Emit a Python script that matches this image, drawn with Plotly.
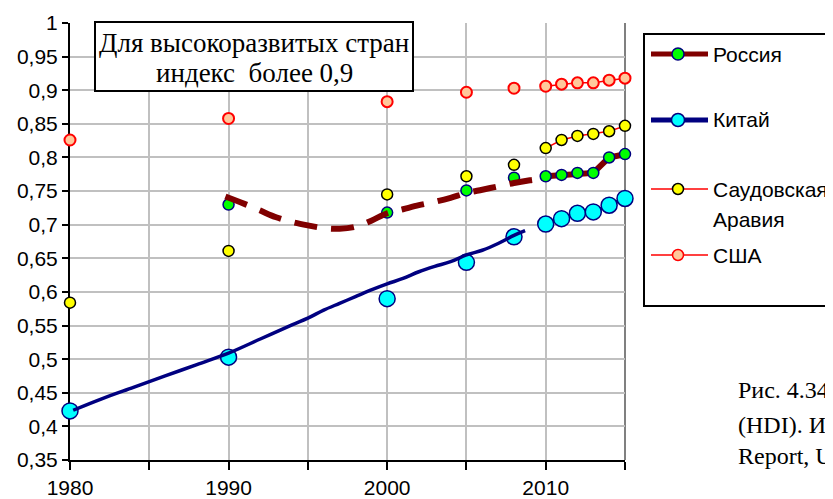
import plotly.graph_objects as go

# ---------------- data ----------------
years = [1980, 1990, 2000, 2005, 2008, 2010, 2011, 2012, 2013, 2014, 2015]
russia = [None, 0.730, 0.718, 0.751, 0.770, 0.772, 0.774, 0.777, 0.777, 0.800, 0.805]
china = [0.423, 0.503, 0.590, 0.644, 0.682, 0.701, 0.709, 0.717, 0.719, 0.729, 0.739]
saudi = [0.584, 0.661, 0.745, 0.772, 0.789, 0.814, 0.826, 0.832, 0.835, 0.839, 0.847]
usa = [0.826, 0.858, 0.883, 0.897, 0.903, 0.906, 0.909, 0.911, 0.911, 0.915, 0.918]

russia_trend_years = [1989.8, 1991, 1992, 1993, 1994, 1995, 1996, 1997, 1998, 1999, 2000,
                      2001, 2002, 2003, 2004, 2005, 2006, 2007, 2008, 2009, 2009.3]
russia_trend = [0.742, 0.731, 0.721, 0.711, 0.704, 0.699, 0.695, 0.694, 0.697, 0.706, 0.717,
                0.723, 0.729, 0.734, 0.740, 0.747, 0.752, 0.757, 0.762, 0.766, 0.767]

china_trend_years = [1980.2, 1982, 1984, 1986, 1988, 1990, 1992, 1994, 1995, 1996, 1997, 1998,
                     1999, 2000, 2001, 2002, 2003, 2004, 2005, 2006, 2007, 2008, 2008.7]
china_trend = [0.424, 0.441, 0.458, 0.475, 0.492, 0.509, 0.530, 0.551, 0.561, 0.573, 0.583, 0.593,
               0.603, 0.612, 0.620, 0.630, 0.638, 0.645, 0.655, 0.662, 0.672, 0.684, 0.691]

series_names = ["Россия", "Китай", "Саудовская Аравия", "США"]
x_tick_vals = [1980, 1985, 1990, 1995, 2000, 2005, 2010, 2015]
x_tick_text = ["1980", "", "1990", "", "2000", "", "2010", ""]
y_tick_vals = [0.35, 0.4, 0.45, 0.5, 0.55, 0.6, 0.65, 0.7, 0.75, 0.8, 0.85, 0.9, 0.95, 1.0]
y_tick_text = ["0,35", "0,4", "0,45", "0,5", "0,55", "0,6", "0,65", "0,7", "0,75", "0,8",
               "0,85", "0,9", "0,95", "1"]

box_lines = ["Для высокоразвитых стран", "индекс\u00a0\u00a0более 0,9"]
caption_lines = ["Рис. 4.34", "(HDI). И", "Report, U"]

# ---------------- geometry ----------------
# the page body has an 8px margin, so the figure is 8px smaller and shifted
OFF = 8
W, H = 833 - OFF, 499 - OFF
L, R, T, B = 70 - OFF, 208, 23 - OFF, 39
PW, PH = W - L - R, H - T - B


def px2x(sx):
    return (sx - OFF - L) / PW


def py2y(sy):
    return (H - B - (sy - OFF)) / PH


full_years = list(range(1980, 2016))


def expand(vals):
    m = dict(zip(years, vals))
    return [m.get(y) for y in full_years]


fig = go.Figure()

SANS = "Liberation Sans, Arial, sans-serif"
SERIF = "Liberation Serif, Times New Roman, serif"

# USA
fig.add_trace(go.Scatter(
    x=full_years, y=expand(usa), mode="lines+markers", name=series_names[3],
    line=dict(color="#FF0000", width=1.5), connectgaps=False, cliponaxis=False,
    marker=dict(size=11, color="#FFC89B", line=dict(color="#FF0000", width=2))))
# Saudi Arabia
fig.add_trace(go.Scatter(
    x=full_years, y=expand(saudi), mode="lines+markers", name=series_names[2],
    line=dict(color="#FF0000", width=1.5), connectgaps=False, cliponaxis=False,
    marker=dict(size=11, color="#FFFF00", line=dict(color="#000000", width=1.5))))
# Russia
fig.add_trace(go.Scatter(
    x=full_years, y=expand(russia), mode="lines+markers", name=series_names[0],
    line=dict(color="#800000", width=6), connectgaps=False, cliponaxis=False,
    marker=dict(size=11, color="#00FF00", line=dict(color="#000080", width=1.5))))
# China
fig.add_trace(go.Scatter(
    x=full_years, y=expand(china), mode="lines+markers", name=series_names[1],
    line=dict(color="#000080", width=3.5), connectgaps=False, cliponaxis=False,
    marker=dict(size=16, color="#00FFFF", line=dict(color="#000080", width=1.5))))

# trend lines on top
fig.add_trace(go.Scatter(
    x=russia_trend_years, y=russia_trend, mode="lines", line_shape="spline",
    line=dict(color="#800000", width=6, dash="23px,14px"), cliponaxis=False, showlegend=False))
fig.add_trace(go.Scatter(
    x=china_trend_years, y=china_trend, mode="lines", line_shape="spline",
    line=dict(color="#000080", width=3.5), cliponaxis=False, showlegend=False))

shapes = []
annotations = []

# plot right border
shapes.append(dict(type="line", xref="paper", yref="paper", x0=1, x1=1, y0=0, y1=1,
                   line=dict(color="#808080", width=2), layer="below"))

# text box
shapes.append(dict(type="rect", xref="paper", yref="paper",
                   x0=px2x(95), x1=px2x(413), y0=py2y(91), y1=py2y(22),
                   fillcolor="white", line=dict(color="black", width=2)))
for txt, yy in zip(box_lines, [43, 73]):
    annotations.append(dict(text=txt, xref="paper", yref="paper", x=px2x(254), y=py2y(yy),
                            xanchor="center", yanchor="middle", showarrow=False,
                            font=dict(family=SERIF, size=27, color="black")))

# legend box
shapes.append(dict(type="rect", xref="paper", yref="paper",
                   x0=px2x(644), x1=px2x(860), y0=py2y(306), y1=py2y(34),
                   fillcolor="white", line=dict(color="black", width=2)))
legend_items = [
    (series_names[0], 54, "#800000", 5, "#00FF00", "#000080", 6),
    (series_names[1], 120, "#000080", 5, "#00FFFF", "#000080", 6.5),
    (series_names[2], 189, "#FF0000", 1.5, "#FFFF00", "#000000", 5.5),
    (series_names[3], 255, "#FF0000", 1.5, "#FFC89B", "#FF0000", 5.5),
]
for name, yy, lc, lw, fc, mc, r in legend_items:
    shapes.append(dict(type="line", xref="paper", yref="paper",
                       x0=px2x(651), x1=px2x(708), y0=py2y(yy), y1=py2y(yy),
                       line=dict(color=lc, width=lw)))
    shapes.append(dict(type="circle", xref="paper", yref="paper",
                       xsizemode="pixel", ysizemode="pixel",
                       xanchor=px2x(678), yanchor=py2y(yy),
                       x0=-r, x1=r, y0=-r, y1=r,
                       fillcolor=fc, line=dict(color=mc, width=1.5)))
    parts = name.split(" ")
    for i, p in enumerate(parts):
        annotations.append(dict(text=p, xref="paper", yref="paper", x=px2x(711), y=py2y(yy + 30 * i),
                                xanchor="left", yanchor="middle", showarrow=False,
                                font=dict(family=SANS, size=21, color="black")))

# caption
for txt, yy in zip(caption_lines, [390, 425, 456]):
    annotations.append(dict(text=txt, xref="paper", yref="paper", x=px2x(736), y=py2y(yy),
                            xanchor="left", yanchor="middle", showarrow=False,
                            font=dict(family=SERIF, size=24, color="black")))

fig.update_layout(
    width=W, height=H,
    margin=dict(l=L, r=R, t=T, b=B, autoexpand=False),
    paper_bgcolor="white", plot_bgcolor="white",
    showlegend=False,
    shapes=shapes, annotations=annotations,
    font=dict(family=SANS, size=21, color="black"),
    xaxis=dict(range=[1980, 2015], tickvals=x_tick_vals, ticktext=x_tick_text,
               showgrid=True, gridcolor="#C0C0C0", gridwidth=1.5, zeroline=False,
               showline=True, linecolor="black", linewidth=2, layer="below traces",
               ticks="outside", ticklen=8, tickwidth=2, tickcolor="black",
               tickfont=dict(family=SANS, size=21, color="black")),
    yaxis=dict(range=[0.35, 1.0], tickvals=y_tick_vals, ticktext=y_tick_text,
               showgrid=True, gridcolor="#C0C0C0", gridwidth=1.5, zeroline=False,
               showline=True, linecolor="black", linewidth=2, layer="below traces",
               ticks="outside", ticklen=6, tickwidth=2, tickcolor="black",
               tickfont=dict(family=SANS, size=21, color="black")),
)

fig.write_html("out.html")
